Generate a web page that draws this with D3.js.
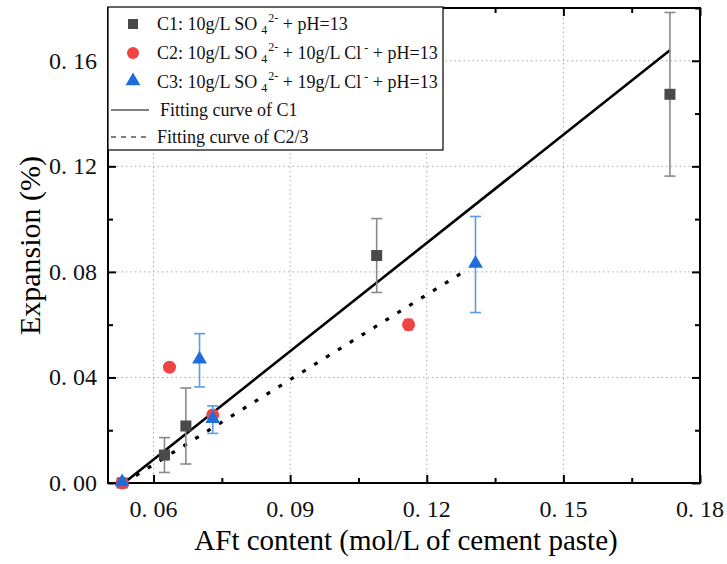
<!doctype html>
<html>
<head>
<meta charset="utf-8">
<title>Expansion vs AFt content</title>
<script src="https://cdn.jsdelivr.net/npm/d3@7"></script>
<style>
    body { margin: 0; background: #fff; }
    svg { display: block; }
    .grid line { stroke: #aaa; stroke-dasharray: 1.5 3; }
    .axis path { display: none; }
    .axis line { stroke: #000; stroke-width: 2; }
    .tlabel { font-family: "Liberation Serif", "DejaVu Serif", serif; font-size: 24px; fill: #111; }
</style>
</head>
<body>
<script>
"use strict";

// series (x: AFt content, y: expansion, e: error)
const c1 = [
    {x: 0.0531, y: 0.0,    e: 0},
    {x: 0.0624, y: 0.0106, e: 0.0066},
    {x: 0.0671, y: 0.0216, e: 0.0144},
    {x: 0.1090, y: 0.0862, e: 0.0140},
    {x: 0.1734, y: 0.1473, e: 0.0310},
];
const c2 = [
    {x: 0.0531, y: 0.0,    e: 0},
    {x: 0.0635, y: 0.0439, e: 0},
    {x: 0.0730, y: 0.0258, e: 0.0015},
    {x: 0.1160, y: 0.0600, e: 0.0020},
];
const c3 = [
    {x: 0.0531, y: 0.0,    e: 0},
    {x: 0.0701, y: 0.0465, e: 0.0101},
    {x: 0.0730, y: 0.0240, e: 0.0052},
    {x: 0.1307, y: 0.0828, e: 0.0182},
];
const fit1 = [{x: 0.0535, y: 0.0}, {x: 0.1734, y: 0.1640}];
const fit23 = [{x: 0.0535, y: 0.0}, {x: 0.1290, y: 0.0810}];

const xMajor = [0.06, 0.09, 0.12, 0.15, 0.18];
const xMinor = [0.075, 0.105, 0.135, 0.165];
const yMajor = [0.00, 0.04, 0.08, 0.12, 0.16];
const yMinor = [0.02, 0.06, 0.10, 0.14, 0.18];

const width = 727, height = 564;
const margin = {top: 8, right: 27, bottom: 81, left: 108};

const x = d3.scaleLinear().domain([0.05, 0.18])
    .range([margin.left, width - margin.right]);
const y = d3.scaleLinear().domain([0, 0.18])
    .range([height - margin.bottom, margin.top]);

const fmt = v => d3.format(".2f")(v).replace(".", ". ");

const svg = d3.select("body").append("svg")
    .attr("width", width).attr("height", height);

// grid
svg.append("g").attr("class", "grid")
    .selectAll("line").data(xMajor.slice(0, -1)).join("line")
    .attr("x1", d => x(d)).attr("x2", d => x(d))
    .attr("y1", y(0)).attr("y2", y(0.18));
svg.append("g").attr("class", "grid")
    .selectAll("line").data(yMajor.slice(1)).join("line")
    .attr("y1", d => y(d)).attr("y2", d => y(d))
    .attr("x1", x(0.05)).attr("x2", x(0.18));

// inward ticks on all four sides
const bottom = height - margin.bottom, right = width - margin.right;
function ticks(axis, vals, size, transform) {
    svg.append("g").attr("class", "axis")
        .attr("transform", transform)
        .call(axis.tickValues(vals).tickSize(size).tickFormat(""));
}
ticks(d3.axisBottom(x), xMajor, -8, `translate(0,${bottom})`);
ticks(d3.axisBottom(x), xMinor, -5, `translate(0,${bottom})`);
ticks(d3.axisTop(x), xMajor, -8, `translate(0,${margin.top})`);
ticks(d3.axisTop(x), xMinor, -5, `translate(0,${margin.top})`);
ticks(d3.axisLeft(y), yMajor, -8, `translate(${margin.left},0)`);
ticks(d3.axisLeft(y), yMinor, -5, `translate(${margin.left},0)`);
ticks(d3.axisRight(y), yMajor, -8, `translate(${right},0)`);
ticks(d3.axisRight(y), yMinor, -5, `translate(${right},0)`);

// tick labels
svg.append("g").selectAll("text").data(xMajor).join("text")
    .attr("class", "tlabel")
    .attr("x", d => x(d)).attr("y", bottom + 34)
    .attr("text-anchor", "middle").text(fmt);
svg.append("g").selectAll("text").data(yMajor).join("text")
    .attr("class", "tlabel")
    .attr("x", margin.left - 11).attr("y", d => y(d) + 8)
    .attr("text-anchor", "end").text(fmt);

// frame
svg.append("rect")
    .attr("x", margin.left).attr("y", margin.top)
    .attr("width", right - margin.left).attr("height", bottom - margin.top)
    .attr("fill", "none").attr("stroke", "#000").attr("stroke-width", 2);

// fitting lines
const line = d3.line().x(d => x(d.x)).y(d => y(d.y));
svg.append("path").datum(fit1)
    .attr("fill", "none").attr("stroke", "#000").attr("stroke-width", 2.6)
    .attr("d", line);
svg.append("path").datum(fit23)
    .attr("fill", "none").attr("stroke", "#000").attr("stroke-width", 3.2)
    .attr("stroke-dasharray", "4 10")
    .attr("d", line);

// error bars
function errorBars(data, color, cap) {
    const g = svg.append("g").attr("stroke", color).attr("stroke-width", 1.6);
    const d = data.filter(p => p.e > 0);
    g.selectAll(".v").data(d).join("line")
        .attr("x1", p => x(p.x)).attr("x2", p => x(p.x))
        .attr("y1", p => y(p.y - p.e)).attr("y2", p => y(p.y + p.e));
    g.selectAll(".t").data(d.flatMap(p => [p.y - p.e, p.y + p.e].map(v => ({x: p.x, v})))).join("line")
        .attr("x1", p => x(p.x) - cap).attr("x2", p => x(p.x) + cap)
        .attr("y1", p => y(p.v)).attr("y2", p => y(p.v));
}

const colC1 = "#4a4a4a", colC2 = "#f04444", colC3 = "#1f6ddc";

errorBars(c1, "#8a8a8a", 5.5);
svg.append("g").selectAll("rect").data(c1).join("rect")
    .attr("x", d => x(d.x) - 5.5).attr("y", d => y(d.y) - 5.5)
    .attr("width", 11).attr("height", 11).attr("fill", colC1);

errorBars(c2, "#f07a7a", 4.5);
svg.append("g").selectAll("circle").data(c2).join("circle")
    .attr("cx", d => x(d.x)).attr("cy", d => y(d.y)).attr("r", 6.5)
    .attr("fill", colC2);

const tri = d3.symbol().type(d3.symbolTriangle).size(95);
errorBars(c3, "#5b9be8", 5.5);
svg.append("g").selectAll("path").data(c3).join("path")
    .attr("transform", d => `translate(${x(d.x)},${y(d.y) - 1})`)
    .attr("d", tri).attr("fill", colC3);

// legend
const lg = svg.append("g")
    .attr("font-family", "'Liberation Serif', 'Times New Roman', serif")
    .attr("font-size", 18).attr("fill", "#111");
lg.append("rect").attr("x", margin.left).attr("y", margin.top - 1)
    .attr("width", 335).attr("height", 143)
    .attr("fill", "#fff").attr("stroke", "#000").attr("stroke-width", 1.2);

const rows = [24, 53, 82, 110, 137];
lg.append("rect").attr("x", 128).attr("y", rows[0] - 5).attr("width", 10).attr("height", 10).attr("fill", colC1);
lg.append("circle").attr("cx", 133).attr("cy", rows[1]).attr("r", 6).attr("fill", colC2);
lg.append("path").attr("transform", `translate(133,${rows[2] - 1})`).attr("d", tri).attr("fill", colC3);
lg.append("line").attr("x1", 111).attr("x2", 149).attr("y1", rows[3]).attr("y2", rows[3])
    .attr("stroke", "#000").attr("stroke-width", 1);
lg.append("line").attr("x1", 111).attr("x2", 149).attr("y1", rows[4]).attr("y2", rows[4])
    .attr("stroke", "#000").attr("stroke-width", 1.2).attr("stroke-dasharray", "5 5");

const entries = [
    {label: "C1: ", cl: null},
    {label: "C2: ", cl: "10g/L Cl"},
    {label: "C3: ", cl: "19g/L Cl"},
];
entries.forEach((e, i) => {
    const t = lg.append("text").attr("x", 157).attr("y", rows[i] + 6);
    t.append("tspan").text(e.label + "10g/L SO");
    t.append("tspan").attr("font-size", 12).attr("dx", 4).attr("dy", 4).text("4");
    t.append("tspan").attr("font-size", 12).attr("dx", 1).attr("dy", -12).text("2-");
    if (e.cl) {
        t.append("tspan").attr("dy", 8).text(" + " + e.cl);
        t.append("tspan").attr("font-size", 12).attr("dx", 3).attr("dy", -7).text("-");
        t.append("tspan").attr("dy", 7).text(" + pH=13");
    } else {
        t.append("tspan").attr("dy", 8).text(" + pH=13");
    }
});
lg.append("text").attr("x", 160).attr("y", rows[3] + 6).text("Fitting curve of C1");
lg.append("text").attr("x", 157).attr("y", rows[4] + 6).text("Fitting curve of C2/3");

// axis titles
svg.append("text")
    .attr("font-family", "'Liberation Serif', 'Times New Roman', serif")
    .attr("font-size", 30).attr("text-anchor", "middle")
    .attr("transform", `translate(40,${(margin.top + bottom) / 2}) rotate(-90)`)
    .text("Expansion (%)");
svg.append("text")
    .attr("font-family", "'Liberation Serif', 'Times New Roman', serif")
    .attr("font-size", 29).attr("text-anchor", "middle")
    .attr("x", (margin.left + right) / 2 + 2).attr("y", 550)
    .text("AFt content (mol/L of cement paste)");
</script>
</body>
</html>
